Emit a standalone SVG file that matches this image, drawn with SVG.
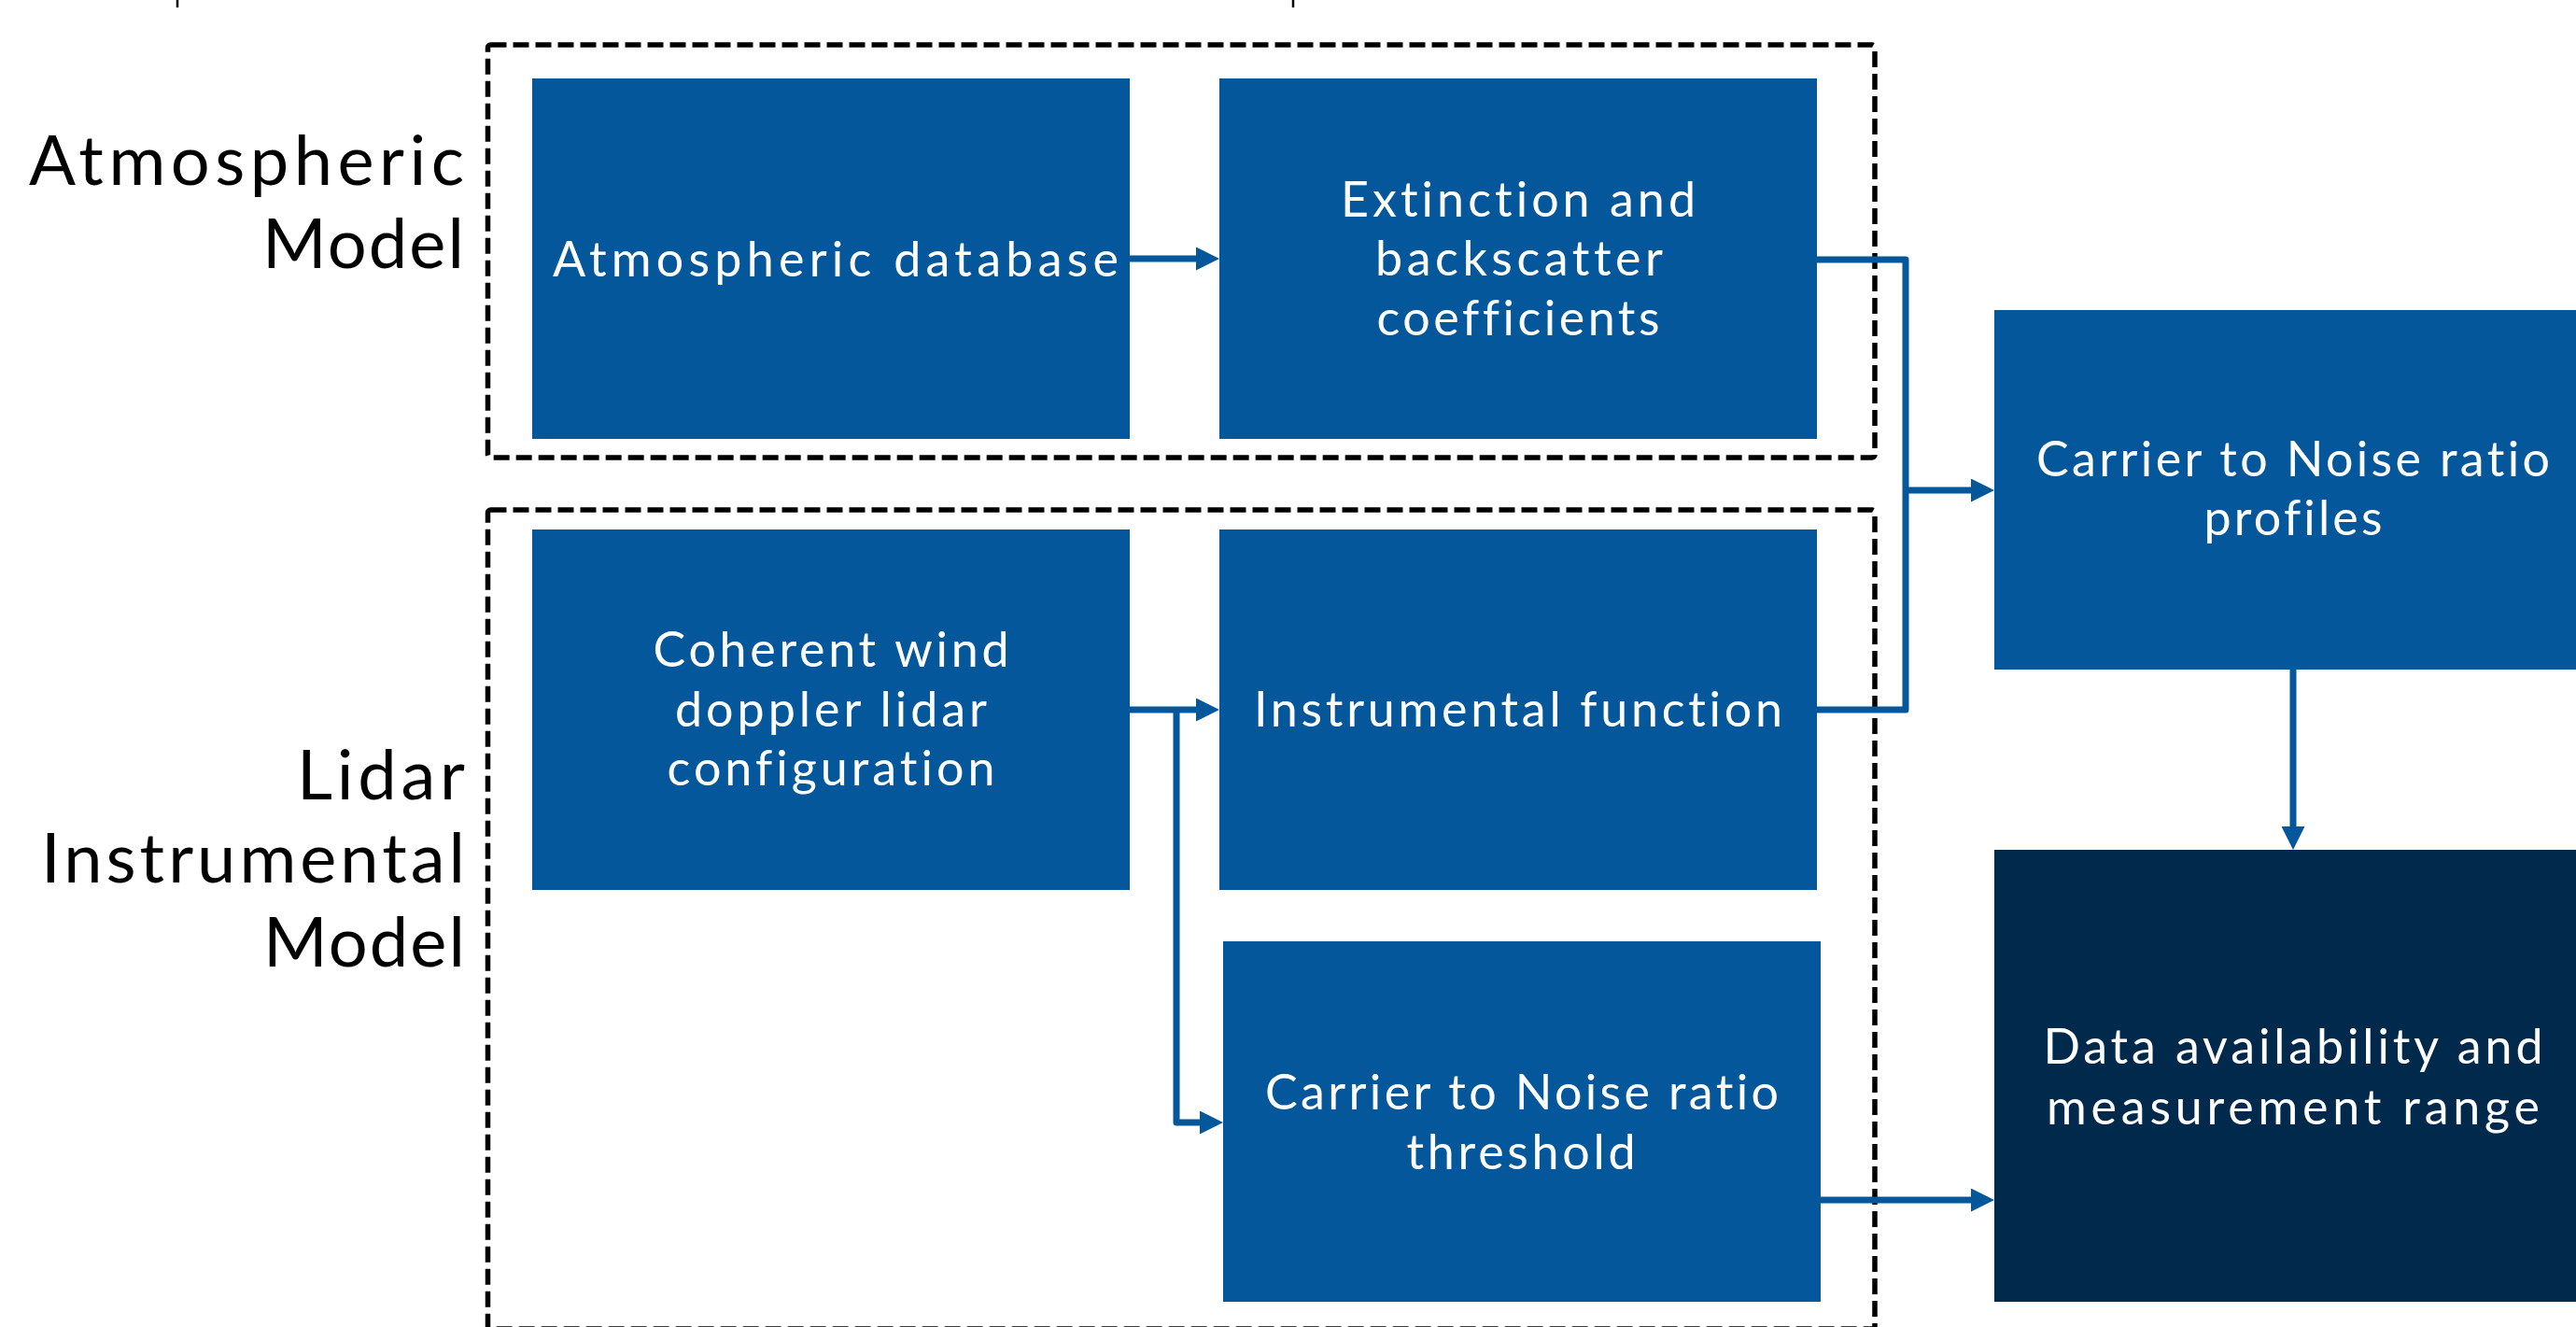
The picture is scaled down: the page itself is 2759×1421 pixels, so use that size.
<svg xmlns="http://www.w3.org/2000/svg" width="2759" height="1421" viewBox="0 0 2759 1421">
  <style>
    .node { fill: #03579A; }
    .dark { fill: #01294B; }
    .group { fill: none; stroke: #000; stroke-width: 5.5; stroke-dasharray: 17 7; }
    .conn { fill: none; stroke: #03579A; stroke-width: 7; stroke-linejoin: round; }
    text { font-variant-ligatures: none; font-feature-settings: "liga" 0, "clig" 0; }
    .ntext { font-family: Lato, "Open Sans", sans-serif; font-size: 52px; fill: #fff; text-anchor: middle; }
    .ltext { font-family: Lato, "Open Sans", sans-serif; font-size: 74px; fill: #000; text-anchor: end; }
    .tick { stroke: #000; stroke-width: 2.5; }
  </style>
  <defs>
    <marker id="arrow" viewBox="0 0 25 25" refX="3" refY="12.5" markerWidth="25" markerHeight="25" markerUnits="userSpaceOnUse" orient="auto">
      <path d="M0,0 L25,12.5 L0,25 Z" fill="#03579A"/>
    </marker>
  </defs>
  <rect width="2759" height="1421" fill="#fff"/>

  <g id="cropped-marks">
    <line class="tick" x1="190" y1="0" x2="190" y2="8"/>
    <line class="tick" x1="1385" y1="0" x2="1385" y2="8"/>
  </g>

  <g id="group-atmospheric">
    <rect class="group" x="522.5" y="48" width="1485.5" height="442" rx="3"/>
    <text class="ltext" x="497" y="198" textLength="466">Atmospheric</text>
    <text class="ltext" x="497" y="287" textLength="216">Model</text>
  </g>
  <g id="group-lidar">
    <rect class="group" x="522.5" y="546" width="1485.5" height="877" rx="3"/>
    <text class="ltext" x="498" y="856" textLength="180">Lidar</text>
    <text class="ltext" x="498" y="945" textLength="454">Instrumental</text>
    <text class="ltext" x="498" y="1035" textLength="216">Model</text>
  </g>

  <g id="node-atmospheric-database">
    <rect class="node" x="570" y="84" width="640" height="386"/>
    <text class="ntext" x="895" y="296" textLength="606">Atmospheric database</text>
  </g>
  <g id="node-extinction">
    <rect class="node" x="1306" y="84" width="640" height="386"/>
    <text class="ntext" x="1626" y="232" textLength="380">Extinction and</text>
    <text class="ntext" x="1627" y="295" textLength="308">backscatter</text>
    <text class="ntext" x="1626" y="359" textLength="303">coefficients</text>
  </g>
  <g id="node-coherent">
    <rect class="node" x="570" y="567" width="640" height="386"/>
    <text class="ntext" x="890" y="714" textLength="381">Coherent wind</text>
    <text class="ntext" x="890" y="778" textLength="334">doppler lidar</text>
    <text class="ntext" x="890" y="841" textLength="351">configuration</text>
  </g>
  <g id="node-instrumental">
    <rect class="node" x="1306" y="567" width="640" height="386"/>
    <text class="ntext" x="1626" y="778" textLength="566">Instrumental function</text>
  </g>
  <g id="node-cnr-threshold">
    <rect class="node" x="1310" y="1008" width="640" height="386"/>
    <text class="ntext" x="1630" y="1188" textLength="550">Carrier to Noise ratio</text>
    <text class="ntext" x="1629" y="1252" textLength="245">threshold</text>
  </g>
  <g id="node-cnr-profiles">
    <rect class="node" x="2136" y="332" width="700" height="385"/>
    <text class="ntext" x="2456" y="510" textLength="550">Carrier to Noise ratio</text>
    <text class="ntext" x="2456" y="573" textLength="191">profiles</text>
  </g>
  <g id="node-data-availability">
    <rect class="dark" x="2136" y="910" width="700" height="484"/>
    <text class="ntext" x="2456" y="1139" textLength="535">Data availability and</text>
    <text class="ntext" x="2456" y="1204" textLength="528">measurement range</text>
  </g>

  <g id="connectors">
    <path class="conn" d="M1210,277 H1284" marker-end="url(#arrow)"/>
    <path class="conn" d="M1946,278 H2041 V760 H1946"/>
    <path class="conn" d="M2041,525 H2114" marker-end="url(#arrow)"/>
    <path class="conn" d="M1210,760 H1284" marker-end="url(#arrow)"/>
    <path class="conn" d="M1260,760 V1202 H1288" marker-end="url(#arrow)"/>
    <path class="conn" d="M1950,1285 H2114" marker-end="url(#arrow)"/>
    <path class="conn" d="M2456,717 V888" marker-end="url(#arrow)"/>
  </g>
</svg>
